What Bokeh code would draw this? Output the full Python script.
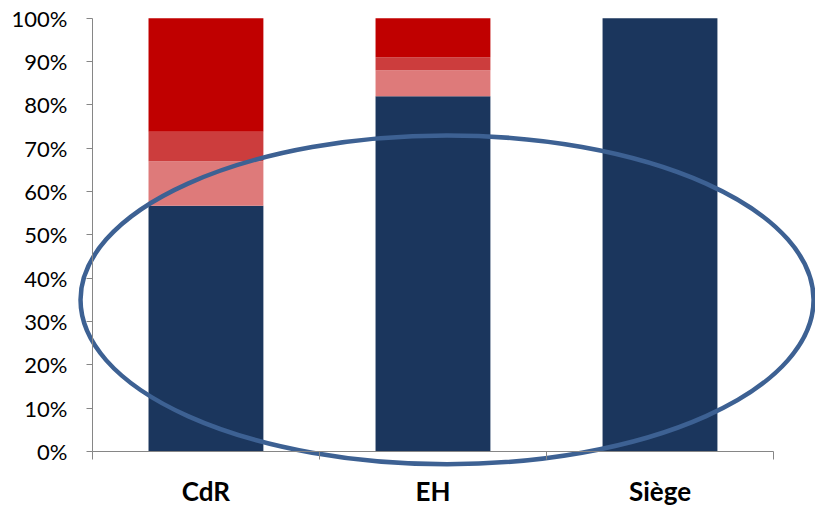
from bokeh.plotting import figure
from bokeh.models import LinearAxis, FixedTicker, PrintfTickFormatter, Range1d
from bokeh.embed import file_html
from bokeh.resources import INLINE

categories = ["CdR", "EH", "Siège"]
navy = [56.7, 82.0, 100.0]
pink = [10.3, 6.0, 0.0]
medium = [6.8, 3.0, 0.0]
dark = [26.2, 9.0, 0.0]
y_ticks = [0, 10, 20, 30, 40, 50, 60, 70, 80, 90, 100]

# ellipse overlay (data units: x in category slots, y in %)
ell_x, ell_y, ell_w, ell_h = 1.562, 35.0, 3.229, 75.9

xs = [i + 0.5 for i in range(len(categories))]
source = dict(x=xs, navy=navy, pink=pink, medium=medium, dark=dark)

p = figure(width=815, height=507, output_backend="svg", toolbar_location=None,
           x_range=Range1d(-0.405, 3.185), y_range=Range1d(-12.92, 104.08),
           x_axis_type=None, y_axis_type=None, min_border=0,
           outline_line_color=None)
p.xgrid.visible = False
p.ygrid.visible = False

p.vbar_stack(["navy", "pink", "medium", "dark"], x="x", width=0.506, source=source,
             color=["#1B365D", "#DE7A7A", "#CC3D3D", "#C00000"], line_color=None)

p.ellipse(x=[ell_x], y=[ell_y], width=[ell_w], height=[ell_h], fill_color=None,
          line_color="#3D6193", line_width=4.5)

yax = LinearAxis(fixed_location=0, bounds=(0, 100),
                 ticker=FixedTicker(ticks=y_ticks),
                 formatter=PrintfTickFormatter(format="%d%%"))
yax.axis_line_color = "#868686"
yax.major_tick_line_color = "#868686"
yax.major_tick_out = 6
yax.major_tick_in = 0
yax.minor_tick_line_color = None
yax.major_label_standoff = 19
yax.major_label_text_font = "Lato"
yax.major_label_text_font_size = "22px"
yax.major_label_text_color = "#000000"
p.add_layout(yax, "left")

xax = LinearAxis(fixed_location=0, bounds=(0, 3),
                 ticker=FixedTicker(ticks=xs, minor_ticks=[0, 1, 2, 3]),
                 major_label_overrides={x: c for x, c in zip(xs, categories)})
xax.axis_line_color = "#868686"
xax.major_tick_line_color = None
xax.major_tick_out = 0
xax.major_tick_in = 0
xax.minor_tick_line_color = "#868686"
xax.minor_tick_out = 8
xax.minor_tick_in = 0
xax.major_label_standoff = 15
xax.major_label_text_font = "Lato"
xax.major_label_text_font_style = "bold"
xax.major_label_text_font_size = "26px"
xax.major_label_text_color = "#000000"
p.add_layout(xax, "below")

open("out.html", "w").write(file_html(p, INLINE))
